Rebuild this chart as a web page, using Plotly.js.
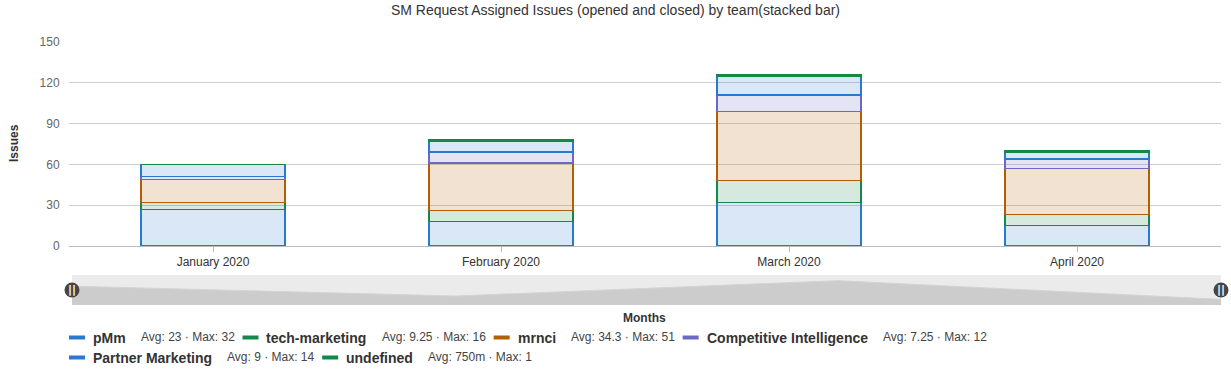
<!DOCTYPE html>
<html>
<head>
<meta charset="utf-8">
<script src="https://cdn.plot.ly/plotly-3.0.1.min.js"></script>
<style>html,body{margin:0;padding:0;background:#fff;}#chart{width:1231px;height:371px;}</style>
</head>
<body>
<div id="chart"></div>
<script>
// ---- data ----
const months = ['January 2020', 'February 2020', 'March 2020', 'April 2020'];
const seriesNames = ['pMm', 'tech-marketing', 'mrnci', 'Competitive Intelligence', 'Partner Marketing', 'undefined'];
const pMm = [27, 18, 32, 15];
const techMarketing = [5, 8, 16, 8];
const mrnci = [17, 35, 51, 34];
const competitiveIntelligence = [2, 8, 12, 7];
const partnerMarketing = [9, 8, 14, 5];
const undefinedTeam = [0, 1, 1, 1];
const seriesValues = [pMm, techMarketing, mrnci, competitiveIntelligence, partnerMarketing, undefinedTeam];
const chartTitle = 'SM Request Assigned Issues (opened and closed) by team(stacked bar)';
const yTitle = 'Issues';
const xTitle = 'Months';

// ---- style ----
const lineColors = ['#2a79d0', '#14874b', '#b15f05', '#6c68c7', '#2a79d0', '#14874b'];
function fillOf(hex, a) {
  const r = parseInt(hex.slice(1, 3), 16), g = parseInt(hex.slice(3, 5), 16), b = parseInt(hex.slice(5, 7), 16);
  return 'rgba(' + r + ',' + g + ',' + b + ',' + a + ')';
}
const FONT = '"Liberation Sans", Arial, Helvetica, sans-serif';
const W = 1231, H = 371;
const M = {l: 69, r: 10, t: 42, b: 66};
const pw = W - M.l - M.r, ph = H - M.t - M.b;
const px2x = px => (px - M.l) / pw;
const py2y = py => (H - M.b - py) / ph;
const mainBottomPx = 246, sliderTopPx = 275;

// ---- traces ----
const traces = seriesNames.map((name, i) => ({
  type: 'bar', name: name, x: months, y: seriesValues[i],
  xaxis: 'x', yaxis: 'y',
  marker: {color: fillOf(lineColors[i], 0.18), line: {color: lineColors[i], width: 1.5}},
  showlegend: false
}));

// data shadow in the zoom slider (first series)
const mn = Math.min(...pMm), mx = Math.max(...pMm), off = (mx - mn) * 0.3;
const shadowRange = [mn - off, mx + off];
traces.push({
  type: 'scatter', mode: 'lines', x: months, y: pMm, xaxis: 'x2', yaxis: 'y2',
  fill: 'tozeroy', fillcolor: '#cccccc', line: {color: '#d4d4d4', width: 1},
  showlegend: false, hoverinfo: 'skip'
});
const mid = (shadowRange[0] + shadowRange[1]) / 2;
traces.push({
  type: 'scatter', mode: 'markers+text', x: [months[0], months[months.length - 1]], y: [mid, mid],
  xaxis: 'x2', yaxis: 'y2', cliponaxis: false,
  marker: {size: 15, color: '#454545', line: {width: 0}},
  text: ['<b>||</b>', '<b>||</b>'], textposition: 'middle center',
  textfont: {color: '#ffffff', size: 11, family: '"DejaVu Sans", sans-serif'},
  showlegend: false, hoverinfo: 'skip'
});

// ---- legend (annotations + shapes) ----
const ctx = document.createElement('canvas').getContext('2d');
function tw(text, font) { ctx.font = font; return ctx.measureText(text).width; }
function fmt(v) {
  if (v !== 0 && Math.abs(v) < 1) return parseFloat((v * 1000).toPrecision(3)) + 'm';
  return String(parseFloat(v.toPrecision(3)));
}
const annotations = [], shapes = [];
let lx = 69, ly = 337.5;
seriesNames.forEach((name, i) => {
  const vals = seriesValues[i];
  const avg = vals.reduce((a, b) => a + b, 0) / vals.length;
  const stat = 'Avg: ' + fmt(avg) + ' \u00b7 Max: ' + fmt(Math.max(...vals));
  const nW = tw(name, 'bold 14px "Liberation Sans"');
  const sW = tw(stat, '12px "Liberation Sans"');
  const itemW = 16 + 8 + nW + 15 + sW;
  if (lx + itemW > 1228 && lx > 69) { lx = 69; ly += 20; }
  shapes.push({type: 'rect', xref: 'paper', yref: 'paper',
    x0: px2x(lx), x1: px2x(lx + 16), y0: py2y(ly + 2), y1: py2y(ly - 2),
    fillcolor: lineColors[i], line: {width: 0}});
  annotations.push({xref: 'paper', yref: 'paper', x: px2x(lx + 24), y: py2y(ly), xanchor: 'left', yanchor: 'middle',
    text: '<b>' + name + '</b>', showarrow: false, borderpad: 0, borderwidth: 0,
    font: {family: FONT, size: 14, color: '#333'}});
  annotations.push({xref: 'paper', yref: 'paper', x: px2x(lx + 24 + nW + 15), y: py2y(ly - 1), xanchor: 'left', yanchor: 'middle',
    text: stat, showarrow: false, borderpad: 0, borderwidth: 0,
    font: {family: FONT, size: 12, color: '#444'}});
  lx += itemW + 8;
});
annotations.push({xref: 'paper', yref: 'paper', x: px2x(14), y: py2y(143), xanchor: 'center', yanchor: 'middle',
  text: '<b>' + yTitle + '</b>', textangle: -90, showarrow: false, font: {family: FONT, size: 12, color: '#333'}});
annotations.push({xref: 'paper', yref: 'paper', x: px2x(644), y: py2y(318), xanchor: 'center', yanchor: 'middle',
  text: '<b>' + xTitle + '</b>', showarrow: false, font: {family: FONT, size: 12, color: '#333'}});

// slider background
shapes.push({type: 'rect', xref: 'x2 domain', yref: 'y2 domain', x0: 0, x1: 1, y0: 0, y1: 1,
  fillcolor: '#ebebeb', line: {width: 0}, layer: 'below'});

const layout = {
  width: W, height: H,
  margin: M,
  paper_bgcolor: '#fff', plot_bgcolor: 'rgba(0,0,0,0)',
  font: {family: FONT, size: 12, color: '#333'},
  title: {text: chartTitle, x: 0.5, xref: 'container', y: 1 - 10.5 / H, yref: 'container', yanchor: 'middle',
    font: {family: FONT, size: 14, color: '#333'}},
  barmode: 'stack', bargap: 0.5,
  showlegend: false,
  xaxis: {type: 'category', domain: [0, 1], anchor: 'y', showgrid: false,
    showline: true, linecolor: '#bdbdbd', linewidth: 1,
    ticks: 'outside', ticklen: 5, tickcolor: '#bdbdbd',
    tickfont: {family: FONT, size: 12, color: '#333'}, fixedrange: true},
  yaxis: {domain: [py2y(mainBottomPx), 1], anchor: 'x', range: [0, 150], dtick: 30,
    showgrid: true, gridcolor: '#cfcfcf', gridwidth: 1, zeroline: false,
    ticks: 'outside', ticklen: 6, tickcolor: 'rgba(0,0,0,0)',
    tickfont: {family: FONT, size: 12, color: '#666'}, fixedrange: true},
  xaxis2: {type: 'category', categoryarray: months, domain: [px2x(72), 1], anchor: 'y2',
    range: [0, months.length - 1], visible: false, fixedrange: true},
  yaxis2: {domain: [0, py2y(sliderTopPx)], anchor: 'x2', range: shadowRange, visible: false, fixedrange: true},
  shapes: shapes,
  annotations: annotations
};

Plotly.newPlot('chart', traces, layout, {displayModeBar: false, staticPlot: true});
</script>
</body>
</html>
